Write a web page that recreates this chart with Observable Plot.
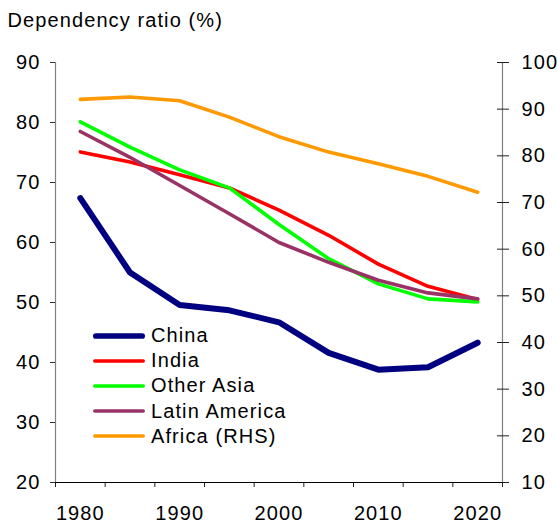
<!DOCTYPE html>
<html>
<head>
<meta charset="utf-8">
<script src="https://cdn.jsdelivr.net/npm/d3@7"></script>
<script src="https://cdn.jsdelivr.net/npm/@observablehq/plot@0.6"></script>
<style>
  html, body { margin: 0; padding: 0; background: #fff; }
  #wrap { position: relative; width: 557px; height: 528px; overflow: hidden; font-family: 'Liberation Sans', Arial, sans-serif; color: #000; }
  #title { height: 36px; box-sizing: border-box; padding: 9px 0 0 7.5px; font-size: 20px; line-height: 22px; letter-spacing: 1.1px; }
  #legend { position: absolute; left: 93px; top: 323px; font-size: 20px; letter-spacing: 1.1px; }
  .row { display: flex; align-items: center; height: 25.2px; }
  .row svg { display: block; margin-right: 6px; }
</style>
</head>
<body>
<div id="wrap">
  <div id="title">Dependency ratio (%)</div>
  <div id="chart"></div>
  <div id="legend"></div>
</div>
<script>
// ---- data ----
const years = [1980, 1985, 1990, 1995, 2000, 2005, 2010, 2015, 2020];
const china        = [67.4, 55.0, 49.6, 48.7, 46.7, 41.6, 38.8, 39.2, 43.3];
const india        = [75.1, 73.4, 71.3, 69.1, 65.4, 61.2, 56.4, 52.7, 50.5];
const otherAsia    = [80.1, 75.9, 72.1, 69.1, 63.0, 57.3, 53.1, 50.6, 50.1];
const latinAmerica = [78.5, 74.2, 69.5, 64.8, 60.0, 56.7, 53.7, 51.6, 50.6];
const africaRHS    = [92.1, 92.6, 91.8, 88.3, 84.1, 80.8, 78.3, 75.6, 72.2];

const seriesNames = ["China", "India", "Other Asia", "Latin America", "Africa (RHS)"];
const seriesColors = ["#000080", "#FF0000", "#00FF00", "#993366", "#FF9900"];
const seriesWidths = [6, 3.6, 3.6, 3.6, 3.6];
const seriesValues = [china, india, otherAsia, latinAmerica, africaRHS];
const seriesRHS = [false, false, false, false, true];

const leftTicks = [20, 30, 40, 50, 60, 70, 80, 90];
const rightTicks = [10, 20, 30, 40, 50, 60, 70, 80, 90, 100];
const yearLabels = [1980, 1990, 2000, 2010, 2020];

// scales: left 20..90, right 10..100
const leftDomain = [20, 90];
const rightDomain = [10, 100];
const toLeft = v => leftDomain[0] + (v - rightDomain[0]) * (leftDomain[1] - leftDomain[0]) / (rightDomain[1] - rightDomain[0]);
const fromLeft = y => rightDomain[0] + (y - leftDomain[0]) * (rightDomain[1] - rightDomain[0]) / (leftDomain[1] - leftDomain[0]);

// category axis: boundaries half a step around each year
const step = years[1] - years[0];
const xDomain = [years[0] - step / 2, years[years.length - 1] + step / 2];
const boundaries = d3.range(xDomain[0], xDomain[1] + step / 2, step);

const rows = seriesNames.flatMap((name, s) =>
  years.map((yr, i) => ({
    series: name,
    year: yr,
    value: seriesRHS[s] ? toLeft(seriesValues[s][i]) : seriesValues[s][i]
  }))
);

const lineMarks = seriesNames.map((name, s) =>
  Plot.line(rows.filter(r => r.series === name), {
    x: "year", y: "value",
    stroke: seriesColors[s], strokeWidth: seriesWidths[s],
    strokeLinejoin: "round", strokeLinecap: "round"
  })
);

const chart = Plot.plot({
  width: 557,
  height: 492,
  marginTop: 26,
  marginBottom: 46,
  marginLeft: 55,
  marginRight: 55,
  x: { type: "linear", domain: xDomain },
  y: { domain: leftDomain },
  style: { fontFamily: "'Liberation Sans', Arial, sans-serif", fontSize: "20px", color: "#000", background: "white", letterSpacing: "1.1px", overflow: "visible" },
  marks: [
    Plot.ruleX([xDomain[0]], { stroke: "#808080", strokeWidth: 1.2 }),
    Plot.ruleX([xDomain[1]], { stroke: "#808080", strokeWidth: 1.2 }),
    Plot.axisY({ ticks: leftTicks, tickSize: 5, tickPadding: 10, label: null, stroke: "#333" }),
    Plot.axisY({ anchor: "right", ticks: rightTicks.map(toLeft), tickSize: 12, dx: -6, tickFormat: () => "", label: null, stroke: "#222" }),
    Plot.axisY({ anchor: "right", ticks: rightTicks.map(toLeft), tickSize: 0, tickPadding: 19, tickFormat: d => Math.round(fromLeft(d)), label: null }),
    Plot.axisX({ ticks: boundaries, tickSize: 5, tickFormat: () => "", label: null, stroke: "#222" }),
    Plot.axisX({ ticks: yearLabels, tickSize: 0, tickPadding: 23, tickFormat: d => String(d), label: null }),
    ...lineMarks,
    Plot.ruleY([leftDomain[0]], { stroke: "#000", strokeWidth: 1.2 })
  ]
});
document.getElementById("chart").appendChild(chart);

// legend (HTML overlay)
const legend = document.getElementById("legend");
seriesNames.forEach((name, s) => {
  const row = document.createElement("div");
  row.className = "row";
  const w = seriesWidths[s] === 6 ? 5.7 : 3.6;
  row.innerHTML = `<svg width="52" height="12"><line x1="${w/2}" y1="6" x2="${52 - w/2}" y2="6" stroke="${seriesColors[s]}" stroke-width="${w}" stroke-linecap="round"/></svg><span>${name}</span>`;
  legend.appendChild(row);
});
</script>
</body>
</html>
